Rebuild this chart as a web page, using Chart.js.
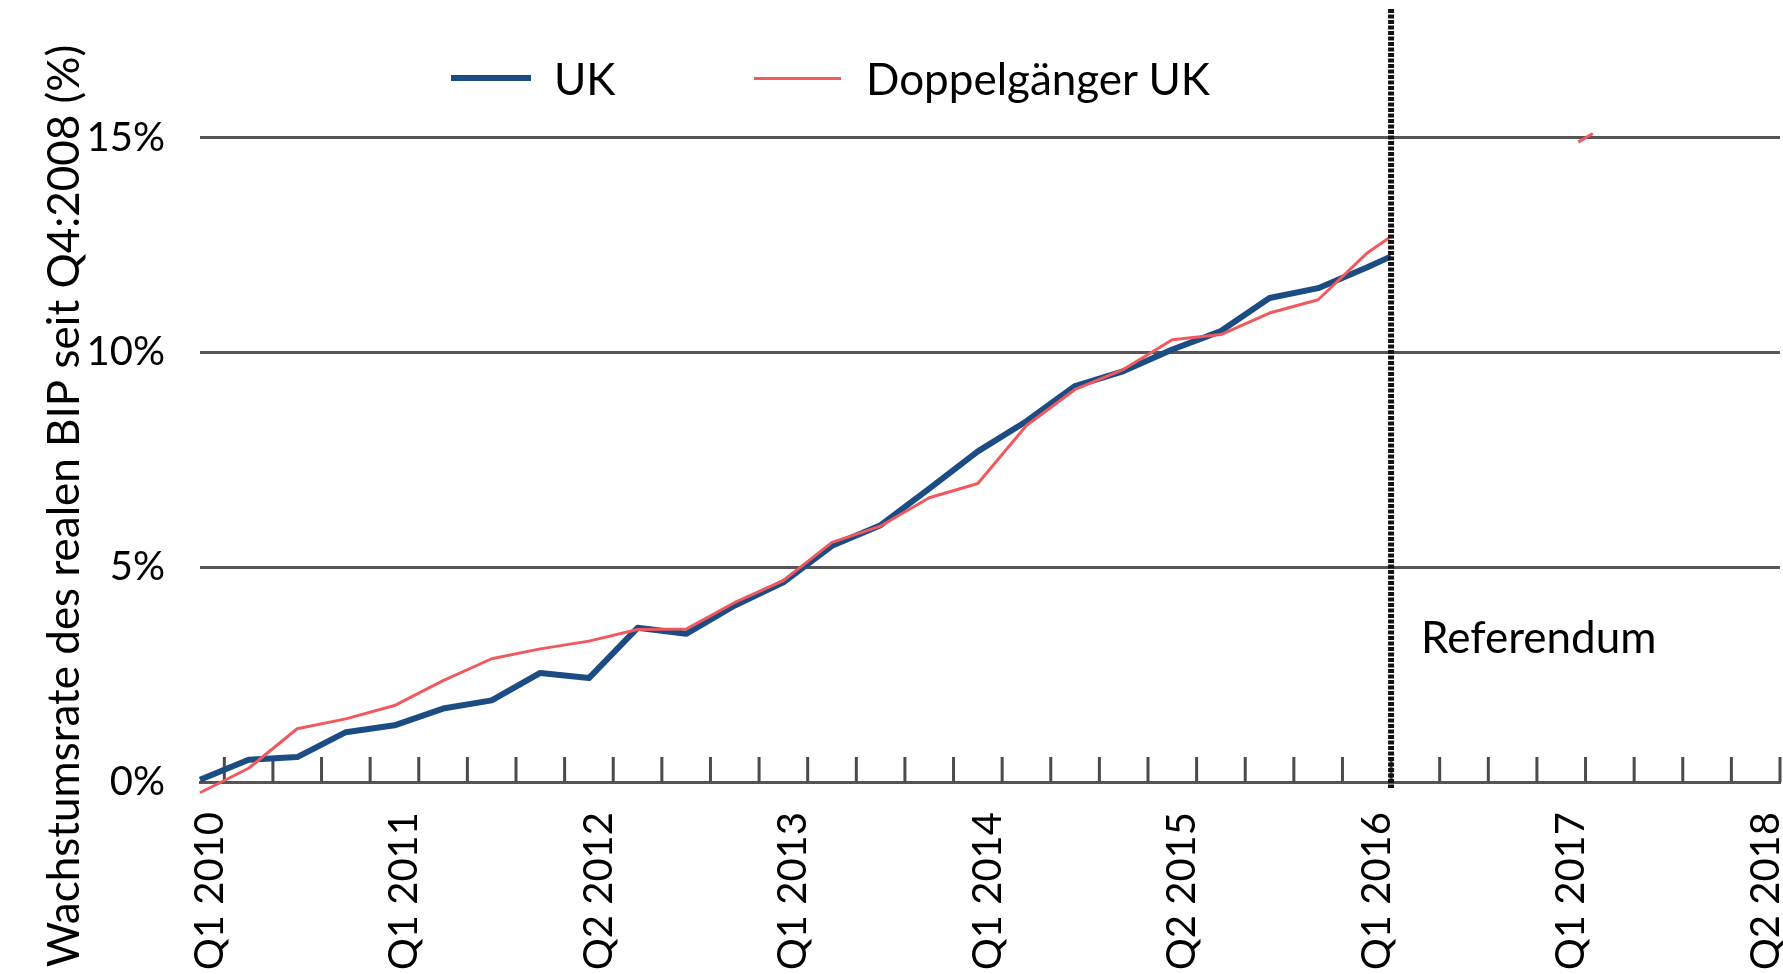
<!DOCTYPE html>
<html>
<head>
<meta charset="utf-8">
<script src="https://cdn.jsdelivr.net/npm/chart.js@4.4.1/dist/chart.umd.min.js"></script>
<style>
  body { margin: 0; background: #fff; }
  #wrap { position: relative; width: 1783px; height: 974px; font-family: Lato, sans-serif; }
  .swatch { position: absolute; }
  .key { position: absolute; font-size: 44px; line-height: 44px; color: #000; white-space: nowrap; }
</style>
</head>
<body>
<div id="wrap">
  <canvas id="myChart" width="1783" height="974"></canvas>
  <div class="swatch" style="left:451px; top:75px; width:80px; height:6px; background:#1b4d84;"></div>
  <div class="key" style="left:554px; top:56px;">UK</div>
  <div class="swatch" style="left:754px; top:77px; width:87px; height:3px; background:#f05a5f;"></div>
  <div class="key" style="left:866px; top:56px;">Doppelgänger UK</div>
</div>
<script>
// quarter index from Q1 2010 (0); last point sits on the referendum line
const quarterPos = [0, 1, 2, 3, 4, 5, 6, 7, 8, 9, 10, 11, 12, 13, 14, 15, 16, 17, 18, 19, 20, 21, 22, 23, 24, 24.5];
const ukValues = [0.05, 0.52, 0.58, 1.16, 1.32, 1.71, 1.90, 2.54, 2.42, 3.59, 3.45, 4.11, 4.65, 5.50, 5.98, 6.83, 7.70, 8.40, 9.22, 9.57, 10.07, 10.50, 11.27, 11.50, 11.98, 12.24];
const doppelValues = [-0.25, 0.32, 1.24, 1.47, 1.78, 2.36, 2.87, 3.10, 3.28, 3.55, 3.56, 4.18, 4.69, 5.58, 5.96, 6.62, 6.95, 8.30, 9.14, 9.61, 10.30, 10.42, 10.92, 11.23, 12.31, 12.70];
// stray red fragment near the 15% line
const strayPos = [28.35, 28.65];
const strayValues = [14.9, 15.1];

const tickPos = [0, 4, 8, 12, 16, 20, 24, 28, 32];
const tickLabels = ['Q1 2010', 'Q1 2011', 'Q2 2012', 'Q1 2013', 'Q1 2014', 'Q2 2015', 'Q1 2016', 'Q1 2017', 'Q2 2018'];
const markPos = [0.5, 1.5, 2.5, 3.5, 4.5, 5.5, 6.5, 7.5, 8.5, 9.5, 10.5, 11.5, 12.5, 13.5, 14.5, 15.5, 16.5, 17.5, 18.5, 19.5, 20.5, 21.5, 22.5, 23.5, 24.5, 25.5, 26.5, 27.5, 28.5, 29.5, 30.5, 31.5, 32.5];
const referendumPos = 24.5;
const yTitle = 'Wachstumsrate des realen BIP seit Q4:2008 (%)';

const toPoints = (xs, ys) => xs.map((x, i) => ({x: x, y: ys[i]}));

const extras = {
  id: 'extras',
  beforeDatasetsDraw(chart) {
    const {ctx, scales: {x, y}} = chart;
    const base = y.getPixelForValue(0);
    ctx.save();
    ctx.strokeStyle = '#4a4a4a';
    ctx.lineWidth = 3;
    markPos.forEach(v => {
      const px = x.getPixelForValue(v);
      ctx.beginPath();
      ctx.moveTo(px, base);
      ctx.lineTo(px, base - 25);
      ctx.stroke();
    });
    ctx.restore();
  },
  afterDatasetsDraw(chart) {
    const {ctx, chartArea, scales: {x, y}} = chart;
    const px = x.getPixelForValue(referendumPos);
    ctx.save();
    ctx.strokeStyle = '#111';
    ctx.lineWidth = 6;
    ctx.setLineDash([4, 1.5]);
    ctx.beginPath();
    ctx.moveTo(px, chartArea.top);
    ctx.lineTo(px, y.getPixelForValue(0) + 6);
    ctx.stroke();
    ctx.setLineDash([]);
    ctx.fillStyle = '#000';
    ctx.font = '44px Lato';
    ctx.textBaseline = 'alphabetic';
    ctx.textAlign = 'left';
    ctx.fillText('Referendum', px + 30, y.getPixelForValue(3));
    // y axis title
    ctx.translate(65, 506);
    ctx.rotate(-Math.PI / 2);
    ctx.textAlign = 'center';
    ctx.textBaseline = 'middle';
    ctx.fillText(yTitle, 0, 0);
    ctx.restore();
  }
};

Chart.defaults.font.family = 'Lato';
new Chart(document.getElementById('myChart'), {
  type: 'line',
  data: {
    datasets: [
      {
        label: 'Doppelgänger UK',
        data: toPoints(quarterPos, doppelValues),
        borderColor: '#f05a5f',
        borderWidth: 3,
        order: 0
      },
      {
        label: 'UK',
        data: toPoints(quarterPos, ukValues),
        borderColor: '#1b4d84',
        borderWidth: 6,
        order: 1
      },
      {
        label: 'stray',
        data: toPoints(strayPos, strayValues),
        borderColor: '#f05a5f',
        borderWidth: 3,
        order: 2
      }
    ]
  },
  options: {
    responsive: false,
    animation: false,
    devicePixelRatio: 1,
    clip: false,
    elements: {
      point: { radius: 0 },
      line: { tension: 0, borderJoinStyle: 'round' }
    },
    layout: { padding: { top: 9, right: 3, left: 0, bottom: 0 } },
    plugins: {
      legend: { display: false },
      tooltip: { enabled: false }
    },
    scales: {
      x: {
        type: 'linear',
        min: 0,
        max: 32.5,
        afterBuildTicks: s => { s.ticks = tickPos.map(v => ({value: v})); },
        afterFit: s => {
          s.height = 192;
          s.paddingLeft = 0; s.paddingRight = 0; s.paddingTop = 0; s.paddingBottom = 0;
        },
        ticks: {
          autoSkip: false,
          minRotation: 90,
          maxRotation: 90,
          padding: 30,
          labelOffset: 10,
          color: '#000',
          font: { size: 40 },
          callback: (v, i) => tickLabels[i]
        },
        grid: { display: false, drawTicks: false },
        border: { display: true, color: '#555', width: 3 }
      },
      y: {
        min: 0,
        max: 18,
        afterFit: s => {
          s.width = 200;
          s.paddingLeft = 0; s.paddingRight = 0; s.paddingTop = 0; s.paddingBottom = 0;
        },
        ticks: {
          stepSize: 5,
          includeBounds: false,
          padding: 35,
          color: '#000',
          font: { size: 40 },
          callback: v => v + '%'
        },
        grid: { color: '#555', lineWidth: 3, drawTicks: false },
        border: { display: false }
      }
    }
  },
  plugins: [extras]
});
</script>
</body>
</html>
